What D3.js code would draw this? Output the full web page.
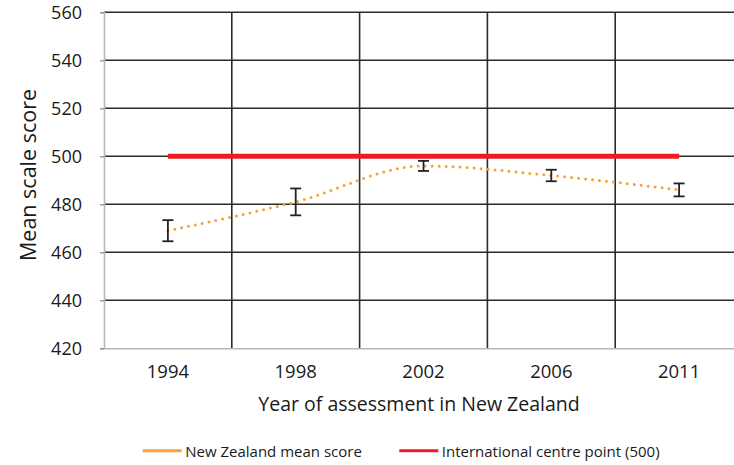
<!DOCTYPE html>
<html>
<head>
<meta charset="utf-8">
<script src="https://cdn.jsdelivr.net/npm/d3@7"></script>
<style>
  body { margin: 0; background: #fff; }
  svg { display: block; font-family: "Open Sans", sans-serif; }
</style>
</head>
<body>
<div id="chart"></div>
<script>
// Data_____________________________________
const years = ['1994', '1998', '2002', '2006', '2011'];
const meanScores = [469, 481, 496, 492, 486];
const errorMargins = [4.4, 5.6, 2.1, 2.4, 2.7];
const centrePoint = 500;
const yTicks = [420, 440, 460, 480, 500, 520, 540, 560];
const seriesNames = ['New Zealand mean score', 'International centre point (500)'];

// Layout____________________________________
const width = 734;
const height = 465;
const plotLeft = 104;
const plotTop = 12.3;
const plotBottom = 348.3;
const plotRight = 743;
const orange = '#f7a13b';
const red = '#ed1c24';
const textColor = '#1a1a1a';

const svg = d3.select('#chart')
    .append('svg')
    .attr('width', width)
    .attr('height', height);

const x = d3.scaleBand()
    .domain(years)
    .range([plotLeft, plotRight])
    .padding(0);
const y = d3.scaleLinear()
    .domain([420, 560])
    .range([plotBottom, plotTop]);
const cx = d => x(d) + x.bandwidth() / 2;

// Grid lines_________________________________
svg.append('g')
    .selectAll('line')
    .data(yTicks.slice(1))
    .enter()
    .append('line')
    .attr('x1', plotLeft)
    .attr('x2', plotRight)
    .attr('y1', d => y(d))
    .attr('y2', d => y(d))
    .attr('stroke', '#2b2b2b')
    .attr('stroke-width', 1.6);

svg.append('g')
    .selectAll('line')
    .data(years.slice(1))
    .enter()
    .append('line')
    .attr('x1', d => x(d))
    .attr('x2', d => x(d))
    .attr('y1', plotTop)
    .attr('y2', plotBottom)
    .attr('stroke', '#2b2b2b')
    .attr('stroke-width', 1.6);

// Axes______________________________________
const yAxis = d3.axisLeft(y)
    .tickValues(yTicks)
    .tickSize(4)
    .tickPadding(18);
const gy = svg.append('g')
    .attr('transform', `translate(${plotLeft},0)`)
    .call(yAxis);
gy.select('.domain').attr('stroke', '#b8b8b8').attr('stroke-width', 1.6);
gy.selectAll('.tick line').attr('stroke', '#888').attr('stroke-width', 1.2);
gy.selectAll('.tick text')
    .attr('font-size', 18)
    .attr('fill', textColor)
    .attr('font-family', '"Open Sans", sans-serif');

const xAxis = d3.axisBottom(x).tickSize(0).tickPadding(17);
const gx = svg.append('g')
    .attr('transform', `translate(0,${plotBottom})`)
    .call(xAxis);
gx.select('.domain').attr('stroke', '#b8b8b8').attr('stroke-width', 1.6);
gx.selectAll('.tick text')
    .attr('font-size', 18.5)
    .attr('fill', textColor)
    .attr('font-family', '"Open Sans", sans-serif');

// Axis titles
svg.append('text')
    .attr('x', 419)
    .attr('y', 411)
    .attr('text-anchor', 'middle')
    .attr('font-size', 19.5)
    .attr('fill', textColor)
    .text('Year of assessment in New Zealand');

svg.append('text')
    .attr('transform', `translate(36,175) rotate(-90)`)
    .attr('text-anchor', 'middle')
    .attr('font-size', 21.5)
    .attr('fill', textColor)
    .text('Mean scale score');

// Series____________________________________
svg.append('line')
    .attr('x1', cx(years[0]))
    .attr('x2', cx(years[years.length - 1]))
    .attr('y1', y(centrePoint))
    .attr('y2', y(centrePoint))
    .attr('stroke', red)
    .attr('stroke-width', 5);

const line = d3.line()
    .x((d, i) => cx(years[i]))
    .y(d => y(d))
    .curve(d3.curveMonotoneX);

svg.append('path')
    .datum(meanScores)
    .attr('d', line)
    .attr('fill', 'none')
    .attr('stroke', orange)
    .attr('stroke-width', 3)
    .attr('stroke-linecap', 'round')
    .attr('stroke-dasharray', '0,7');

// Error bars
const bars = svg.append('g')
    .selectAll('g')
    .data(meanScores)
    .enter()
    .append('g')
    .attr('stroke', '#222')
    .attr('stroke-width', 1.8);
bars.append('line')
    .attr('x1', (d, i) => cx(years[i]))
    .attr('x2', (d, i) => cx(years[i]))
    .attr('y1', (d, i) => y(d + errorMargins[i]))
    .attr('y2', (d, i) => y(d - errorMargins[i]));
bars.append('line')
    .attr('x1', (d, i) => cx(years[i]) - 5.5)
    .attr('x2', (d, i) => cx(years[i]) + 5.5)
    .attr('y1', (d, i) => y(d + errorMargins[i]))
    .attr('y2', (d, i) => y(d + errorMargins[i]));
bars.append('line')
    .attr('x1', (d, i) => cx(years[i]) - 5.5)
    .attr('x2', (d, i) => cx(years[i]) + 5.5)
    .attr('y1', (d, i) => y(d - errorMargins[i]))
    .attr('y2', (d, i) => y(d - errorMargins[i]));

// Legend____________________________________
const legend = svg.append('g')
    .selectAll('g')
    .data(seriesNames)
    .enter()
    .append('g')
    .attr('transform', (d, i) => `translate(${[142.7, 399.3][i]},450.7)`);
legend.append('line')
    .attr('x1', 0)
    .attr('x2', 39)
    .attr('stroke', (d, i) => [orange, red][i])
    .attr('stroke-width', 3);
legend.append('text')
    .attr('x', 42.5)
    .attr('y', 6)
    .attr('font-size', 15)
    .attr('fill', textColor)
    .text(d => d);
</script>
</body>
</html>
